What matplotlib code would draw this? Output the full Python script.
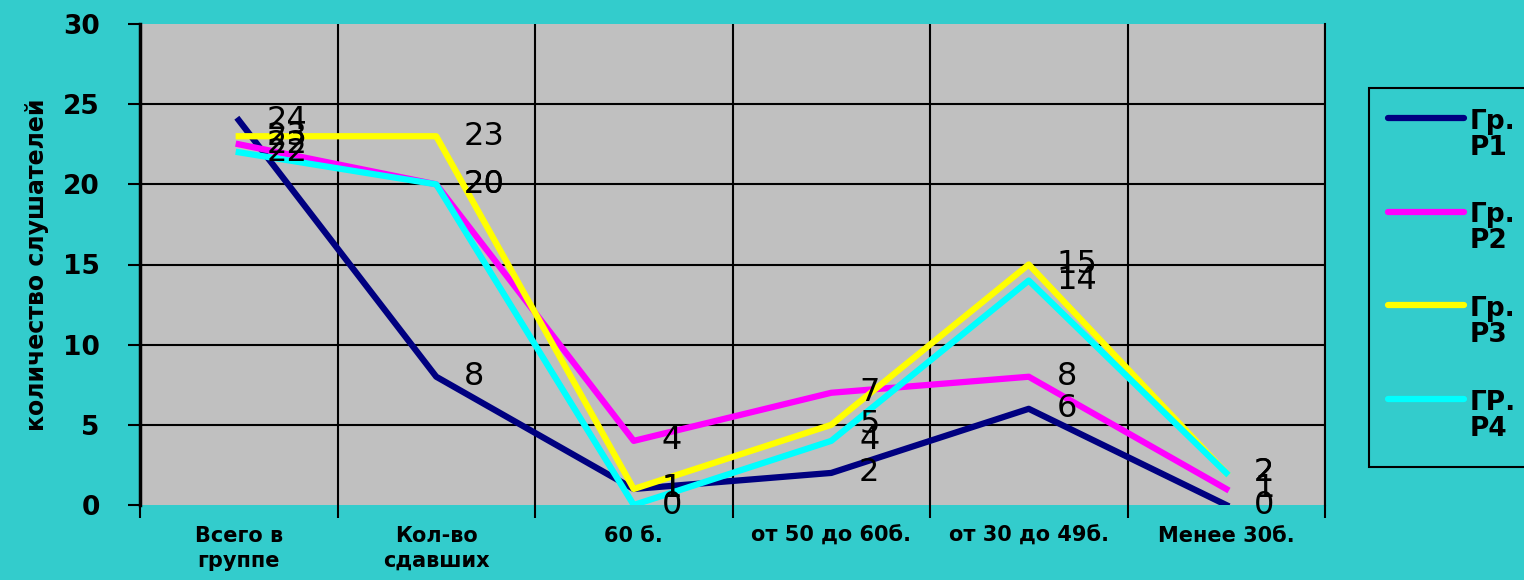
import matplotlib
matplotlib.use("Agg")
import matplotlib.pyplot as plt
from matplotlib.lines import Line2D
from matplotlib.patches import Rectangle
import numpy as np

# категории и данные
kategorii = ["Всего в\nгруппе", "Кол-во\nсдавших", "60 б.", "от 50 до 60б.",
             "от 30 до 49б.", "Менее 30б."]
gr_p1 = [24, 8, 1, 2, 6, 0]
gr_p2 = [22.5, 20, 4, 7, 8, 1]
gr_p3 = [23, 23, 1, 5, 15, 2]
gr_p4 = [22, 20, 0, 4, 14, 2]
nazvaniya = ["Гр.\nР1", "Гр.\nР2", "Гр.\nР3", "ГР.\nР4"]
cveta = ["#000080", "#FF00FF", "#FFFF00", "#00FFFF"]

fon = "#33CCCC"
W, H = 1524, 580
fig = plt.figure(figsize=(W / 100, H / 100), dpi=100, facecolor=fon)
ax = fig.add_axes([140 / W, 75 / H, 1185 / W, 481 / H])
ax.set_facecolor("#C0C0C0")

x = np.arange(len(kategorii))
serii = [gr_p1, gr_p2, gr_p3, gr_p4]
for s, c in zip(serii, cveta):
    ax.plot(x, s, color=c, lw=4.5, zorder=3)

# подписи значений
for s in serii:
    for xi, v in zip(x, s):
        ax.annotate("%d" % round(v), xy=(xi, v), xytext=(20, 0),
                    textcoords="offset points", ha="left", va="center",
                    fontsize=23, color="black", zorder=5)

ax.set_xlim(-0.5, 5.5)
ax.set_ylim(0, 30)
ax.set_yticks(range(0, 31, 5))
ax.set_yticklabels([str(v) for v in range(0, 31, 5)], fontsize=19, fontweight='bold')

granicy = np.arange(-0.5, 6, 1)
ax.set_xticks(granicy)
ax.set_xticklabels([""] * len(granicy))
ax.set_xticks(x, minor=True)
ax.set_xticklabels(kategorii, minor=True, fontsize=15, fontweight='bold',
                   linespacing=1.3)
ax.tick_params(axis='x', which='minor', length=0, pad=15)
ax.tick_params(axis='x', which='major', length=9, width=1.5, direction='out')
ax.tick_params(axis='y', length=9, width=1.5, direction='out', pad=20)

for yv in range(5, 30, 5):
    ax.axhline(yv, color='black', lw=1.5, zorder=1)
for xv in granicy[1:]:
    ax.axvline(xv, color='black', lw=1.5, zorder=1)

for sp in ['top', 'bottom']:
    ax.spines[sp].set_visible(False)
ax.spines['left'].set_linewidth(2.5)
ax.spines['right'].set_linewidth(1.5)

ax.set_ylabel("количество слушателей", fontsize=17, fontweight='bold', labelpad=10)

# легенда вручную (как в исходнике: линия на уровне первой строки)
fig.add_artist(Rectangle((1369 / W, 1 - 467 / H), 200 / W, 379 / H,
                         transform=fig.transFigure, facecolor=fon,
                         edgecolor='black', lw=1.5))
for i, (n, c) in enumerate(zip(nazvaniya, cveta)):
    yl = 1 - (118 + i * 93.5) / H
    fig.add_artist(Line2D([1388 / W, 1464 / W], [yl, yl], transform=fig.transFigure,
                          color=c, lw=4.5, solid_capstyle='round'))
    fig.text(1470 / W, yl + 9 / H, n, ha='left', va='top', fontsize=19,
             fontweight='bold', linespacing=1.0)

fig.savefig("out.png", dpi=100, facecolor=fon)
